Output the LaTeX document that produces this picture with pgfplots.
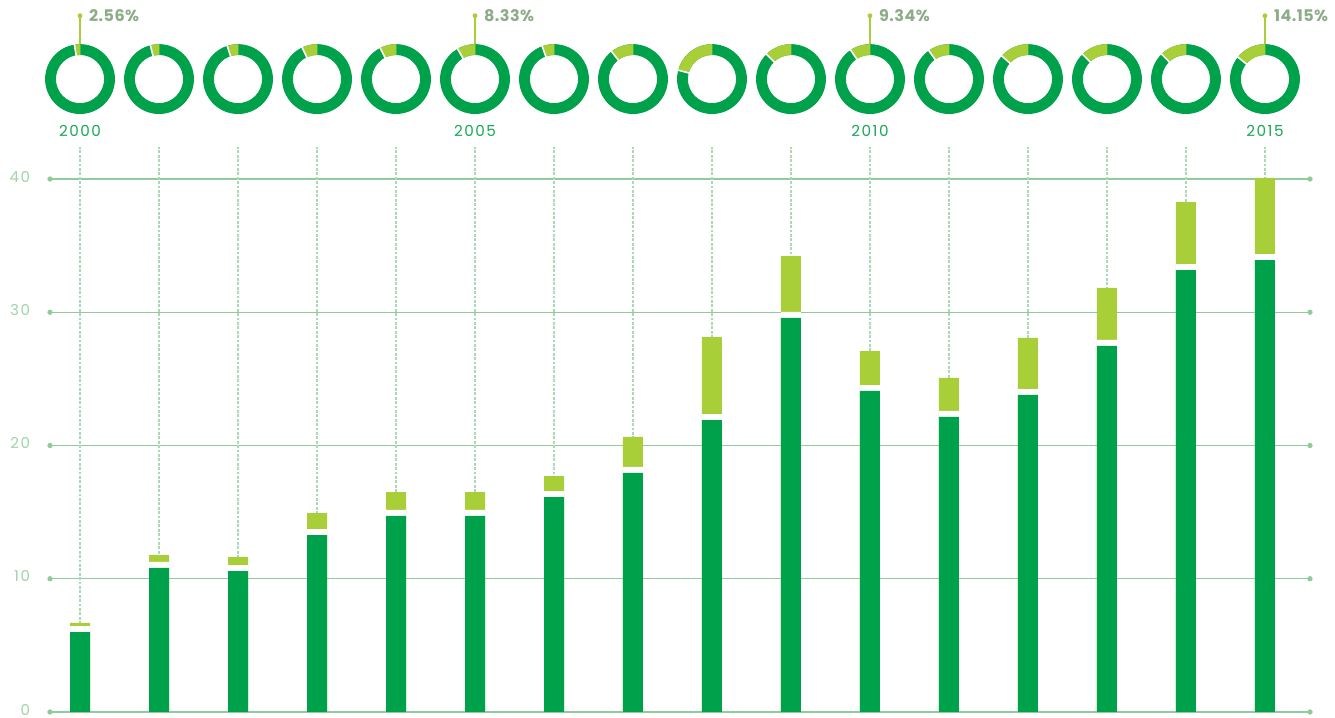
\documentclass[border=0pt]{standalone}
\usepackage{pgfplots}
\usepackage{pgfplotstable}
\pgfplotsset{compat=1.18}
\usepackage{fontspec}
\setmainfont{Poppins}
\newfontfamily\spfont[LetterSpace=10]{Poppins}
\newfontfamily\pcfont[LetterSpace=3]{Poppins}
\definecolor{cdark}{RGB}{0,161,75}
\definecolor{clight}{RGB}{168,206,56}
\definecolor{cgrid}{RGB}{145,203,155}
\definecolor{ctick}{RGB}{160,212,168}
\definecolor{cdot}{RGB}{172,216,184}
\definecolor{cyear}{RGB}{25,168,88}
\definecolor{cpct}{RGB}{140,172,135}

% i = year index (2000 = 0), d = dark segment top, t = light segment top
\pgfplotstableread{
i d t
0 6.00 6.68
1 10.81 11.78
2 10.58 11.63
3 13.28 14.93
4 14.71 16.51
5 14.71 16.51
6 16.13 17.71
7 17.94 20.64
8 21.91 28.14
9 29.57 34.22
10 24.09 27.09
11 22.14 25.07
12 23.79 28.07
13 27.47 31.82
14 33.17 38.27
15 33.92 40.08
}\bars

% donut share of light segment, in percent
\pgfplotstableread{
i y s
0 47.5 2.56
1 47.5 4.0
2 47.5 5.0
3 47.5 7.0
4 47.5 7.5
5 47.5 8.33
6 47.5 5.5
7 47.5 10.5
8 47.5 20.9
9 47.5 12.4
10 47.5 9.34
11 47.5 9.8
12 47.5 13.5
13 47.5 12.4
14 47.5 12.3
15 47.5 14.15
}\donuts

\begin{document}
\begin{tikzpicture}
\begin{axis}[
  name=ax, scale only axis, width=630pt, height=266.5pt,
  xmin=-0.38, xmax=15.57, ymin=0, ymax=40, clip=false,
  axis line style={draw=none},
  major tick length=0pt,
  ytick={0,10,20,30,40},
  ymajorgrids, grid style={cgrid, line width=0.7pt},
  /pgf/number format/assume math mode=true,
  yticklabel style={font=\spfont\fontsize{7.5}{9}\selectfont, text=ctick, xshift=-6.5pt, yshift=1.2pt},
  xtick={0,5,10,15}, xticklabels={2000,2005,2010,2015},
  xticklabel pos=upper,
  xticklabel style={font=\spfont\fontsize{7.6}{9}\selectfont, text=cyear, yshift=17.5pt},
]
% grid end dots
\addplot[only marks, mark=*, mark size=1.1pt, cgrid] coordinates {
(-0.38,0)(15.57,0)(-0.38,10)(15.57,10)(-0.38,20)(15.57,20)(-0.38,30)(15.57,30)(-0.38,40)(15.57,40)};
% dotted drop lines
\addplot[cdot, line width=1pt, dash pattern=on 1.4pt off 0.8pt, unbounded coords=jump, no marks] coordinates {
(0,0)(0,42.4)(0,nan)(1,0)(1,42.4)(1,nan)(2,0)(2,42.4)(2,nan)(3,0)(3,42.4)(3,nan)
(4,0)(4,42.4)(4,nan)(5,0)(5,42.4)(5,nan)(6,0)(6,42.4)(6,nan)(7,0)(7,42.4)(7,nan)
(8,0)(8,42.4)(8,nan)(9,0)(9,42.4)(9,nan)(10,0)(10,42.4)(10,nan)(11,0)(11,42.4)(11,nan)
(12,0)(12,42.4)(12,nan)(13,0)(13,42.4)(13,nan)(14,0)(14,42.4)(14,nan)(15,0)(15,42.4)};
% bars
\addplot[ybar, bar shift=0pt, bar width=10pt, fill=clight, draw=none] table[x=i, y=t] {\bars};
\addplot[ybar, bar shift=0pt, bar width=10pt, fill=white, draw=none] table[x=i, y expr=\thisrow{d}+0.45] {\bars};
\addplot[ybar, bar shift=0pt, bar width=10pt, fill=cdark, draw=none] table[x=i, y=d] {\bars};
% donuts
\addplot[only marks, scatter, mark=o, mark size=0pt, mark options={draw=none},
  point meta=explicit symbolic,
  scatter/@pre marker code/.code={%
    \pgfmathsetmacro\ang{90+3.6*\pgfplotspointmeta}%
    \fill[cdark, even odd rule] (0pt,0pt) circle[radius=17.25pt] (0pt,0pt) circle[radius=12.25pt];
    \fill[clight] (90:17.25pt) arc[start angle=90, end angle=\ang, radius=17.25pt] -- (\ang:12.25pt) arc[start angle=\ang, end angle=90, radius=12.25pt] -- cycle;
    \draw[white, line width=0.8pt] (\ang:11.8pt) -- (\ang:17.7pt);
  },
  scatter/@post marker code/.code={},
] table[x=i, y=y, meta=s] {\donuts};
% pins
\addplot[clight, line width=0.6pt, unbounded coords=jump, no marks] coordinates {
(0,50.1)(0,52.25)(0,nan)(5,50.1)(5,52.25)(5,nan)(10,50.1)(10,52.25)(10,nan)(15,50.1)(15,52.25)};
\addplot[only marks, mark=*, mark size=1pt, clight, point meta=explicit symbolic,
  nodes near coords,
  every node near coord/.append style={anchor=west, xshift=1pt, yshift=0pt, text=cpct, font=\pcfont\bfseries\fontsize{8}{9}\selectfont},
] table[meta=l] {
x y l
0 52.25 2.56\%
5 52.25 8.33\%
10 52.25 9.34\%
15 52.25 14.15\%
};
\end{axis}
\pgfresetboundingbox
\path[use as bounding box] (ax.south west) ++(-25pt,-3pt) rectangle ++(667.5pt,359pt);
\end{tikzpicture}
\end{document}
